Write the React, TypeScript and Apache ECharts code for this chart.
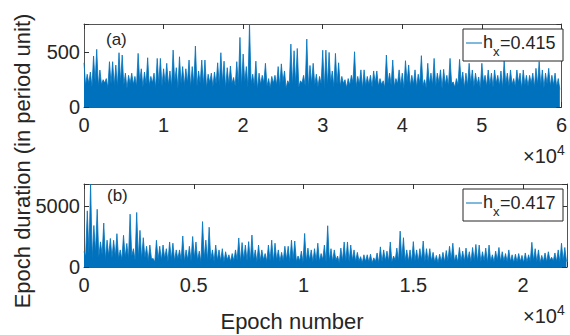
import React, { useEffect, useRef } from "react";
import * as echarts from "echarts";

// Panel (a): epoch durations, one peak + one floor reading every 400 epochs
const topStep = 400;
const topPeaks = [
  405, 300, 320, 467, 528, 338, 250, 260, 415, 415,
  384, 497, 476, 310, 290, 310, 280, 491, 350, 320,
  451, 280, 310, 445, 445, 350, 400, 330, 521, 360,
  460, 370, 350, 430, 370, 558, 330, 430, 430, 300,
  310, 320, 405, 497, 420, 360, 375, 270, 415, 637,
  485, 370, 760, 300, 420, 310, 290, 400, 260, 280,
  290, 370, 395, 330, 240, 576, 515, 536, 240, 290,
  622, 380, 400, 300, 280, 520, 521, 500, 330, 491,
  405, 280, 250, 260, 290, 506, 280, 340, 340, 280,
  290, 330, 330, 260, 240, 476, 310, 430, 260, 340,
  310, 424, 385, 290, 340, 300, 470, 250, 400, 310,
  445, 310, 340, 345, 290, 445, 230, 260, 436, 320,
  310, 400, 339, 310, 275, 400, 290, 339, 310, 339,
  290, 330, 420, 310, 339, 260, 339, 310, 339, 290,
  290, 310, 354, 415, 339, 310, 354, 290, 310, 260,
];
const topFloor = [
  200, 215, 180, 230, 190, 205, 220, 175, 210, 195,
  185, 225, 200, 170, 215, 205, 190, 230, 180, 210,
  195, 220, 175, 205, 190, 215, 200, 185, 225, 170,
  210, 195, 220, 180, 205, 190, 215, 200, 175, 225,
  185, 210, 195, 220, 170, 205, 215, 190, 200, 185,
  225, 180, 210, 195, 160, 205, 220, 190, 175, 215,
  200, 185, 230, 170, 210, 195, 205, 180, 220, 190,
  175, 215, 200, 185, 210, 160, 195, 220, 180, 205,
  190, 215, 175, 200, 225, 185, 210, 170, 195, 205,
  180, 220, 190, 205, 175, 215, 200, 185, 210, 195,
  170, 225, 190, 205, 180, 215, 195, 175, 210, 200,
  185, 220, 165, 205, 190, 215, 180, 200, 225, 175,
  195, 210, 185, 205, 170, 220, 190, 200, 180, 215,
  195, 175, 210, 190, 205, 185, 220, 170, 200, 190,
  215, 180, 205, 195, 175, 210, 190, 200, 185, 160,
];

// Panel (b): one peak + one floor reading every 150 epochs
const botStep = 150;
const botPeaks = [
  1260, 4600, 6800, 3400, 4730, 2060, 3600, 2200, 2340, 2190,
  2730, 1400, 2600, 1930, 4330, 1500, 4470, 3000, 2400, 1700,
  1800, 700, 2190, 1700, 1800, 1500, 2050, 1950, 1400, 1400,
  2540, 1400, 1700, 2500, 2050, 1300, 3720, 2200, 3260, 1400,
  1800, 1400, 1500, 1250, 1000, 1100, 1400, 2380, 2000, 1800,
  2080, 2620, 1400, 1800, 1400, 1100, 1800, 2200, 1950, 1400,
  1200, 1700, 1700, 2200, 2130, 900, 1300, 2750, 1550, 1400,
  1500, 1950, 1100, 1800, 3380, 1500, 1400, 900, 1550, 2050,
  2050, 1800, 1400, 1200, 850, 1000, 1000, 1050, 750, 1150,
  1650, 1400, 1300, 2050, 900, 1550, 2940, 2400, 1400, 1400,
  2080, 1400, 1500, 2130, 1500, 1500, 1200, 950, 1050, 1200,
  1350, 1700, 1950, 1000, 1600, 1300, 1550, 1250, 1600, 1850,
  1800, 1250, 1550, 1800, 1000, 1300, 1600, 1250, 1100, 1400,
  1000, 1050, 1100, 950, 1150, 1000, 2025, 1500, 1400, 950,
  1150, 1250, 800, 1150, 1400, 1950, 1600,
];
const botFloor = [
  900, 1100, 700, 1200, 800, 1000, 600, 900, 750, 850,
  700, 600, 800, 650, 900, 550, 700, 600, 750, 500,
  650, 400, 600, 550, 700, 450, 600, 500, 650, 550,
  450, 600, 500, 700, 550, 400, 650, 500, 600, 450,
  550, 500, 400, 600, 450, 500, 550, 400, 600, 500,
  450, 550, 400, 500, 600, 450, 500, 400, 550, 450,
  500, 600, 400, 550, 450, 500, 350, 450, 550, 400,
  500, 450, 600, 400, 500, 450, 550, 350, 500, 450,
  400, 550, 450, 500, 350, 450, 400, 350, 450, 300,
  400, 500, 450, 400, 550, 450, 600, 500, 450, 400,
  500, 450, 550, 400, 450, 500, 400, 350, 450, 400,
  500, 550, 450, 400, 500, 450, 550, 400, 500, 450,
  400, 500, 350, 450, 400, 550, 450, 500, 400, 450,
  350, 400, 450, 350, 400, 450, 500, 400, 350, 450,
  400, 550, 500, 450, 400, 500, 450,
];

const topXTicks = [0, 10000, 20000, 30000, 40000, 50000, 60000];
const botXTicks = [0, 5000, 10000, 15000, 20000];
const topYTicks = [0, 500];
const botYTicks = [0, 5000];
const legendA = "0.415";
const legendB = "0.417";

const BLUE = "#0072BD";
const TXT = "#262626";
const FONT = "'Liberation Sans', Arial, Helvetica, sans-serif";

function zig(peaks: number[], floor: number[], step: number) {
  const out: number[][] = [];
  for (let i = 0; i < peaks.length; i++) {
    out.push([i * step, peaks[i]]);
    out.push([i * step + step / 2, floor[i]]);
  }
  return out;
}

function xAxes(gridIndex: number, max: number, interval: number, ticks: number[]) {
  const base = {
    type: "value" as const,
    gridIndex,
    min: 0,
    max,
    interval,
    splitLine: { show: false },
    axisLine: { show: true, onZero: false, lineStyle: { color: "#555", width: 1 } },
    axisTick: { show: true, inside: true, length: 5, lineStyle: { color: "#333" } },
  };
  return [
    {
      ...base,
      position: "bottom",
      axisLabel: {
        show: true,
        margin: 8,
        fontSize: 20,
        fontFamily: FONT,
        color: TXT,
        showMaxLabel: true,
        formatter: (v: number) => (ticks.indexOf(v) >= 0 ? String(v / 10000) : ""),
      },
    },
    { ...base, position: "top", axisLabel: { show: false } },
  ];
}

function yAxes(gridIndex: number, max: number, interval: number, ticks: number[]) {
  const base = {
    type: "value" as const,
    gridIndex,
    min: 0,
    max,
    interval,
    splitLine: { show: false },
    axisLine: { show: true, onZero: false, lineStyle: { color: "#555", width: 1 } },
    axisTick: { show: true, inside: true, length: 5, lineStyle: { color: "#333" } },
  };
  return [
    {
      ...base,
      position: "left",
      axisLabel: {
        show: true,
        margin: 4,
        fontSize: 20,
        fontFamily: FONT,
        color: TXT,
        formatter: (v: number) => (ticks.indexOf(v) >= 0 ? String(v) : ""),
      },
    },
    { ...base, position: "right", axisLabel: { show: false } },
  ];
}

function legendBox(y: number, val: string) {
  return [
    { type: "rect", shape: { x: 463, y, width: 100, height: 32 }, style: { fill: "#fff", stroke: TXT, lineWidth: 1 }, z: 10 },
    { type: "line", shape: { x1: 466, y1: y + 14, x2: 482, y2: y + 14 }, style: { stroke: BLUE, lineWidth: 1 }, z: 11 },
    { type: "text", x: 483, y: y + 13, style: { text: "h", fontSize: 18, fontFamily: FONT, fill: TXT, verticalAlign: "middle" }, z: 11 },
    { type: "text", x: 493, y: y + 22, style: { text: "x", fontSize: 13, fontFamily: FONT, fill: TXT, verticalAlign: "middle" }, z: 11 },
    { type: "text", x: 500, y: y + 14, style: { text: "=" + val, fontSize: 18, fontFamily: FONT, fill: TXT, verticalAlign: "middle" }, z: 11 },
  ];
}

function expLabel(yMid: number) {
  return [
    { type: "text", x: 557, y: yMid, style: { text: "×10", fontSize: 20, fontFamily: FONT, fill: TXT, align: "right", verticalAlign: "middle" } },
    { type: "text", x: 557, y: yMid - 6, style: { text: "4", fontSize: 14, fontFamily: FONT, fill: TXT, align: "left", verticalAlign: "middle" } },
  ];
}

export default function App() {
  const ref = useRef<HTMLDivElement>(null);
  useEffect(() => {
    if (!ref.current) return;
    const chart = echarts.init(ref.current, null, { renderer: "svg" });
    chart.setOption({
      animation: false,
      backgroundColor: "#fff",
      grid: [
        { left: 84, top: 24, width: 483, height: 83 },
        { left: 84, top: 184, width: 483, height: 83 },
      ],
      xAxis: [
        ...xAxes(0, 60000, 10000, topXTicks),
        ...xAxes(1, 22000, 5000, botXTicks),
      ],
      yAxis: [
        ...yAxes(0, 760, 500, topYTicks),
        ...yAxes(1, 6800, 5000, botYTicks),
      ],
      series: [
        {
          type: "line",
          name: "a",
          xAxisIndex: 0,
          yAxisIndex: 0,
          data: zig(topPeaks, topFloor, topStep),
          showSymbol: false,
          symbol: "none",
          clip: true,
          lineStyle: { color: BLUE, width: 0.8 },
          areaStyle: { color: BLUE, opacity: 1 },
        },
        {
          type: "line",
          name: "b",
          xAxisIndex: 2,
          yAxisIndex: 2,
          data: zig(botPeaks, botFloor, botStep),
          showSymbol: false,
          symbol: "none",
          clip: true,
          lineStyle: { color: BLUE, width: 0.8 },
          areaStyle: { color: BLUE, opacity: 1 },
        },
      ],
      graphic: [
        { type: "text", x: 106, y: 39, style: { text: "(a)", fontSize: 17, fontFamily: FONT, fill: TXT, verticalAlign: "middle" }, z: 5 },
        { type: "text", x: 107, y: 195, style: { text: "(b)", fontSize: 17, fontFamily: FONT, fill: TXT, verticalAlign: "middle" }, z: 5 },
        ...legendBox(29, legendA),
        ...legendBox(189, legendB),
        ...expLabel(156),
        ...expLabel(316),
        { type: "text", x: 292, y: 321, style: { text: "Epoch number", fontSize: 22, fontFamily: FONT, fill: TXT, align: "center", verticalAlign: "middle" } },
        { type: "text", x: 22, y: 161, rotation: Math.PI / 2, style: { text: "Epoch duration (in period unit)", fontSize: 22, fontFamily: FONT, fill: TXT, align: "center", verticalAlign: "middle" } },
      ],
    });
    return () => chart.dispose();
  }, []);
  return <div ref={ref} style={{ position: "absolute", left: 0, top: 0, width: 570, height: 335 }} />;
}
